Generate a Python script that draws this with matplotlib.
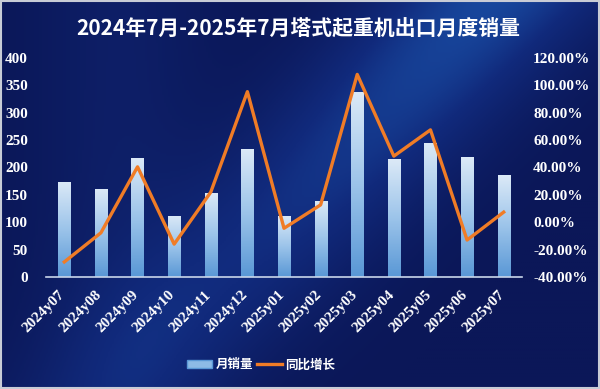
import numpy as np
import matplotlib
matplotlib.use("Agg")
import matplotlib.pyplot as plt
from matplotlib.colors import LinearSegmentedColormap
from matplotlib.patches import Patch
from matplotlib.lines import Line2D
from matplotlib.transforms import ScaledTranslation

months = ['2024y07', '2024y08', '2024y09', '2024y10', '2024y11', '2024y12',
          '2025y01', '2025y02', '2025y03', '2025y04', '2025y05', '2025y06', '2025y07']
sales = [174, 160, 218, 112, 154, 234, 112, 139, 338, 215, 245, 219, 186]
yoy = [-29.0, -7.7, 40.5, -16.0, 22.0, 95.4, -4.4, 12.7, 108.0, 48.3, 67.5, -13.0, 7.4]

title = '2024年7月-2025年7月塔式起重机出口月度销量'

cjk = ['Noto Sans CJK SC', 'DejaVu Sans']
serif = 'Liberation Serif'

fig = plt.figure(figsize=(6, 3.89), dpi=100)

# background: dark navy with a lighter diagonal sweep
bg = fig.add_axes([0, 0, 1, 1], zorder=-1)
xx, yy = np.meshgrid(np.linspace(0, 1, 300), np.linspace(0, 1, 200))
d = np.exp(-((xx - 0.52 + (yy - 0.5) * 0.6) ** 2) / 0.04)
glow = 0.5 * d * (1 - 0.6 * yy) + 0.12 * np.exp(-((xx - 0.2) ** 2) / 0.02)
bg_cmap = LinearSegmentedColormap.from_list('bg', ['#0b1758', '#112a7c', '#1b55ad'])
bg.imshow(glow, cmap=bg_cmap, vmin=0, vmax=0.6, aspect='auto', extent=[0, 1, 0, 1], origin='upper')
bg.set_xlim(0, 1)
bg.set_ylim(0, 1)
bg.axis('off')
bg.add_patch(plt.Rectangle((0.002, 0.003), 0.996, 0.994, fill=False, ec='#c8ccd6', lw=1.5))

ax = fig.add_axes([46 / 600, 112 / 389, 476 / 600, 219 / 389])
ax.patch.set_alpha(0)
x = np.arange(len(months))
bars = ax.bar(x, sales, width=0.33, color='#6fa6dc', zorder=2)

grad_cmap = LinearSegmentedColormap.from_list('bar', ['#5a98d6', '#9cc4ea', '#dbe9f7'])
grad = np.linspace(0, 1, 100).reshape(-1, 1)
for b in bars:
    x0, y0, w, h = b.get_x(), b.get_y(), b.get_width(), b.get_height()
    im = ax.imshow(grad, cmap=grad_cmap, aspect='auto', origin='lower',
                   extent=[x0, x0 + w, y0, y0 + h], zorder=2.5)
    im.set_clip_path(b)

ax.set_xlim(-0.5, len(months) - 0.5)
ax.set_ylim(0, 400)
ax.set_yticks(np.arange(0, 401, 50))
ax.set_xticks(x)
ax.set_xticklabels(months, rotation=45, ha='right', rotation_mode='anchor')
for s in ['top', 'right', 'left']:
    ax.spines[s].set_visible(False)
ax.spines['bottom'].set_color('#c9d6ea')
ax.spines['bottom'].set_linewidth(1.2)
ax.tick_params(axis='both', length=0, colors='white', labelsize=11)
ax.tick_params(axis='x', pad=8)
ax.tick_params(axis='y', pad=13)
shift = ScaledTranslation(-6 / 100, 0, fig.dpi_scale_trans)
for lab in ax.get_xticklabels():
    lab.set_transform(lab.get_transform() + shift)
for lab in ax.get_xticklabels() + ax.get_yticklabels():
    lab.set_fontfamily(serif)
    lab.set_fontweight('bold')

ax2 = ax.twinx()
ax2.plot(x, yoy, color='#f07c26', lw=2.4, zorder=5)
ax2.set_ylim(-40, 120)
ax2.set_yticks(np.arange(-40, 121, 20))
ax2.set_yticklabels([f'{v:.2f}%' for v in np.arange(-40, 121, 20)])
for s in ['top', 'right', 'left', 'bottom']:
    ax2.spines[s].set_visible(False)
ax2.tick_params(axis='y', length=0, colors='white', labelsize=11, pad=8)
for lab in ax2.get_yticklabels():
    lab.set_fontfamily(serif)
    lab.set_fontweight('bold')

fig.text(0.497, 0.925, title, ha='center', va='center', color='white',
         fontsize=15, fontweight='bold', family=cjk)

handles = [Patch(facecolor='#8dbbe6', edgecolor='#5a98d6'),
           Line2D([0], [0], color='#f07c26', lw=2.4)]
fig.legend(handles, ['月销量', '同比增长'], loc='center', bbox_to_anchor=(0.435, 0.062),
           ncol=2, frameon=False, prop={'family': cjk, 'size': 9, 'weight': 'bold'},
           labelcolor='white', handlelength=2.0, columnspacing=0.3, handletextpad=0.25)

fig.savefig('out.png', dpi=100)
